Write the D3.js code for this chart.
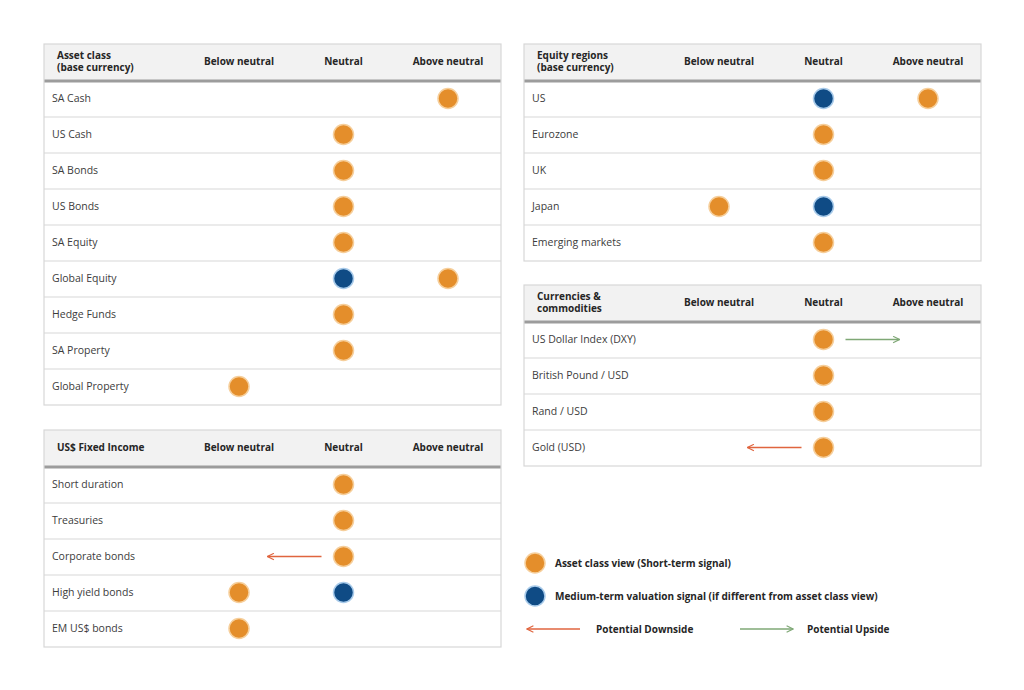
<!DOCTYPE html>
<html>
<head>
<meta charset="utf-8">
<script src="https://cdn.jsdelivr.net/npm/d3@7"></script>
<style>
  body { margin: 0; background: #fff; }
  svg { font-family: "Open Sans", "Lato", sans-serif; }
</style>
</head>
<body>
<div id="chart"></div>
<script>

// columns shared by every table
const levels = ['Below neutral', 'Neutral', 'Above neutral'];

// Asset class table
const assetTitle = ['Asset class', '(base currency)'];
const assetRows = ['SA Cash', 'US Cash', 'SA Bonds', 'US Bonds', 'SA Equity', 'Global Equity', 'Hedge Funds', 'SA Property', 'Global Property'];
const assetShort = ['Above neutral', 'Neutral', 'Neutral', 'Neutral', 'Neutral', 'Above neutral', 'Neutral', 'Neutral', 'Below neutral'];
const assetMedium = [null, null, null, null, null, 'Neutral', null, null, null];
const assetArrow = [0, 0, 0, 0, 0, 0, 0, 0, 0];

// US$ fixed income table
const fixedTitle = ['US$ Fixed Income'];
const fixedRows = ['Short duration', 'Treasuries', 'Corporate bonds', 'High yield bonds', 'EM US$ bonds'];
const fixedShort = ['Neutral', 'Neutral', 'Neutral', 'Below neutral', 'Below neutral'];
const fixedMedium = [null, null, null, 'Neutral', null];
const fixedArrow = [0, 0, -1, 0, 0];

// Equity regions table
const equityTitle = ['Equity regions', '(base currency)'];
const equityRows = ['US', 'Eurozone', 'UK', 'Japan', 'Emerging markets'];
const equityShort = ['Above neutral', 'Neutral', 'Neutral', 'Below neutral', 'Neutral'];
const equityMedium = ['Neutral', null, null, 'Neutral', null];
const equityArrow = [0, 0, 0, 0, 0];

// Currencies & commodities table
const fxTitle = ['Currencies &', 'commodities'];
const fxRows = ['US Dollar Index (DXY)', 'British Pound / USD', 'Rand / USD', 'Gold (USD)'];
const fxShort = ['Neutral', 'Neutral', 'Neutral', 'Neutral'];
const fxMedium = [null, null, null, null];
const fxArrow = [1, 0, 0, -1];

// legend
const legendItems = ['Asset class view (Short-term signal)', 'Medium-term valuation signal (if different from asset class view)'];
const arrowLegend = ['Potential Downside', 'Potential Upside'];

const colors = {
    orange: '#e48e2b', orangeHalo: '#f6cf9c',
    blue: '#0f4b85', blueHalo: '#a9cbea',
    down: '#e0653f', up: '#7fa876',
    border: '#d7d7d7', headBg: '#f2f2f2', headLine: '#9c9c9c',
    text: '#3c3c3c', head: '#262626'
};

const width = 1024, height = 690;
const panelW = 457, headH = 37, rowH = 36, r = 10;

const svg = d3.select('#chart').append('svg')
    .attr('width', width)
    .attr('height', height);

const defs = svg.append('defs');
[['arrow-down', colors.down], ['arrow-up', colors.up]].forEach(([id, c]) => {
    defs.append('marker')
        .attr('id', id)
        .attr('viewBox', '0 0 10 10')
        .attr('refX', 9).attr('refY', 5)
        .attr('markerWidth', 8).attr('markerHeight', 8)
        .attr('markerUnits', 'userSpaceOnUse')
        .attr('orient', 'auto')
        .append('path')
        .attr('d', 'M1,1 L9,5 L1,9')
        .attr('fill', 'none')
        .attr('stroke', c)
        .attr('stroke-width', 1.4);
});

function drawTable(x0, y0, title, rows, short, medium, arrows) {
    const g = svg.append('g').attr('transform', `translate(${x0},${y0})`);
    const bodyH = rowH * rows.length;

    const xScale = d3.scalePoint()
        .domain(levels)
        .range([195, 404]);

    const yScale = d3.scaleBand()
        .domain(rows)
        .range([headH, headH + bodyH]);

    // header
    g.append('rect')
        .attr('x', 0).attr('y', 0)
        .attr('width', panelW).attr('height', headH)
        .attr('fill', colors.headBg);

    g.append('line')
        .attr('x1', 0).attr('x2', panelW)
        .attr('y1', headH).attr('y2', headH)
        .attr('stroke', colors.headLine)
        .attr('stroke-width', 3);

    const t = g.append('text')
        .attr('x', 13)
        .attr('y', title.length > 1 ? 15 : 21)
        .style('font-size', '10px')
        .style('font-weight', 'bold')
        .style('fill', colors.head);
    title.forEach((line, i) => {
        t.append('tspan').attr('x', 13).attr('dy', i ? 12 : 0).text(line);
    });

    g.selectAll('.colhead')
        .data(levels)
        .join('text')
        .attr('x', d => xScale(d))
        .attr('y', 21)
        .attr('text-anchor', 'middle')
        .style('font-size', '10px')
        .style('font-weight', 'bold')
        .style('fill', colors.head)
        .text(d => d);

    // row separators
    g.selectAll('.sep')
        .data(rows.slice(1))
        .join('line')
        .attr('x1', 0).attr('x2', panelW)
        .attr('y1', d => yScale(d)).attr('y2', d => yScale(d))
        .attr('stroke', colors.border)
        .attr('stroke-width', 1.2);

    // outer border
    g.append('rect')
        .attr('x', 0).attr('y', 0)
        .attr('width', panelW).attr('height', headH + bodyH)
        .attr('fill', 'none')
        .attr('stroke', colors.border)
        .attr('stroke-width', 1.2);

    // row labels
    g.selectAll('.label')
        .data(rows)
        .join('text')
        .attr('x', 8)
        .attr('y', d => yScale(d) + yScale.bandwidth() / 2 + 3)
        .style('font-size', '10.5px')
        .style('fill', colors.text)
        .text(d => d);

    const cy = i => yScale(rows[i]) + yScale.bandwidth() / 2 - 0.5;

    // arrows
    arrows.forEach((a, i) => {
        if (!a) return;
        const cx = xScale(short[i]);
        g.append('line')
            .attr('x1', cx + a * 22)
            .attr('x2', cx + a * 76)
            .attr('y1', cy(i)).attr('y2', cy(i))
            .attr('stroke', a < 0 ? colors.down : colors.up)
            .attr('stroke-width', 1.3)
            .attr('marker-end', a < 0 ? 'url(#arrow-down)' : 'url(#arrow-up)');
    });

    // medium-term signals
    medium.forEach((m, i) => {
        if (!m) return;
        g.append('circle')
            .attr('cx', xScale(m)).attr('cy', cy(i)).attr('r', r)
            .attr('fill', colors.blue)
            .attr('stroke', colors.blueHalo)
            .attr('stroke-width', 1.5);
    });

    // short-term signals
    short.forEach((s, i) => {
        g.append('circle')
            .attr('cx', xScale(s)).attr('cy', cy(i)).attr('r', r)
            .attr('fill', colors.orange)
            .attr('stroke', colors.orangeHalo)
            .attr('stroke-width', 1.5);
    });
}

drawTable(44, 44, assetTitle, assetRows, assetShort, assetMedium, assetArrow);
drawTable(44, 430, fixedTitle, fixedRows, fixedShort, fixedMedium, fixedArrow);
drawTable(524, 44, equityTitle, equityRows, equityShort, equityMedium, equityArrow);
drawTable(524, 285, fxTitle, fxRows, fxShort, fxMedium, fxArrow);

// legend
const legend = svg.append('g').attr('transform', 'translate(524,563)');

legend.selectAll('circle')
    .data(legendItems)
    .join('circle')
    .attr('cx', 11)
    .attr('cy', (d, i) => i * 33)
    .attr('r', r)
    .attr('fill', (d, i) => i ? colors.blue : colors.orange)
    .attr('stroke', (d, i) => i ? colors.blueHalo : colors.orangeHalo)
    .attr('stroke-width', 1.5);

legend.selectAll('.ltext')
    .data(legendItems)
    .join('text')
    .attr('x', 31)
    .attr('y', (d, i) => i * 33 + 4)
    .style('font-size', '10px')
    .style('font-weight', 'bold')
    .style('fill', colors.head)
    .text(d => d);

arrowLegend.forEach((d, i) => {
    const x0 = i ? 216 : 3;
    legend.append('line')
        .attr('x1', i ? x0 : x0 + 53)
        .attr('x2', i ? x0 + 53 : x0)
        .attr('y1', 66).attr('y2', 66)
        .attr('stroke', i ? colors.up : colors.down)
        .attr('stroke-width', 1.3)
        .attr('marker-end', i ? 'url(#arrow-up)' : 'url(#arrow-down)');
    legend.append('text')
        .attr('x', i ? 283 : 72)
        .attr('y', 70)
        .style('font-size', '10px')
        .style('font-weight', 'bold')
        .style('fill', colors.head)
        .text(d);
});

</script>
</body>
</html>
